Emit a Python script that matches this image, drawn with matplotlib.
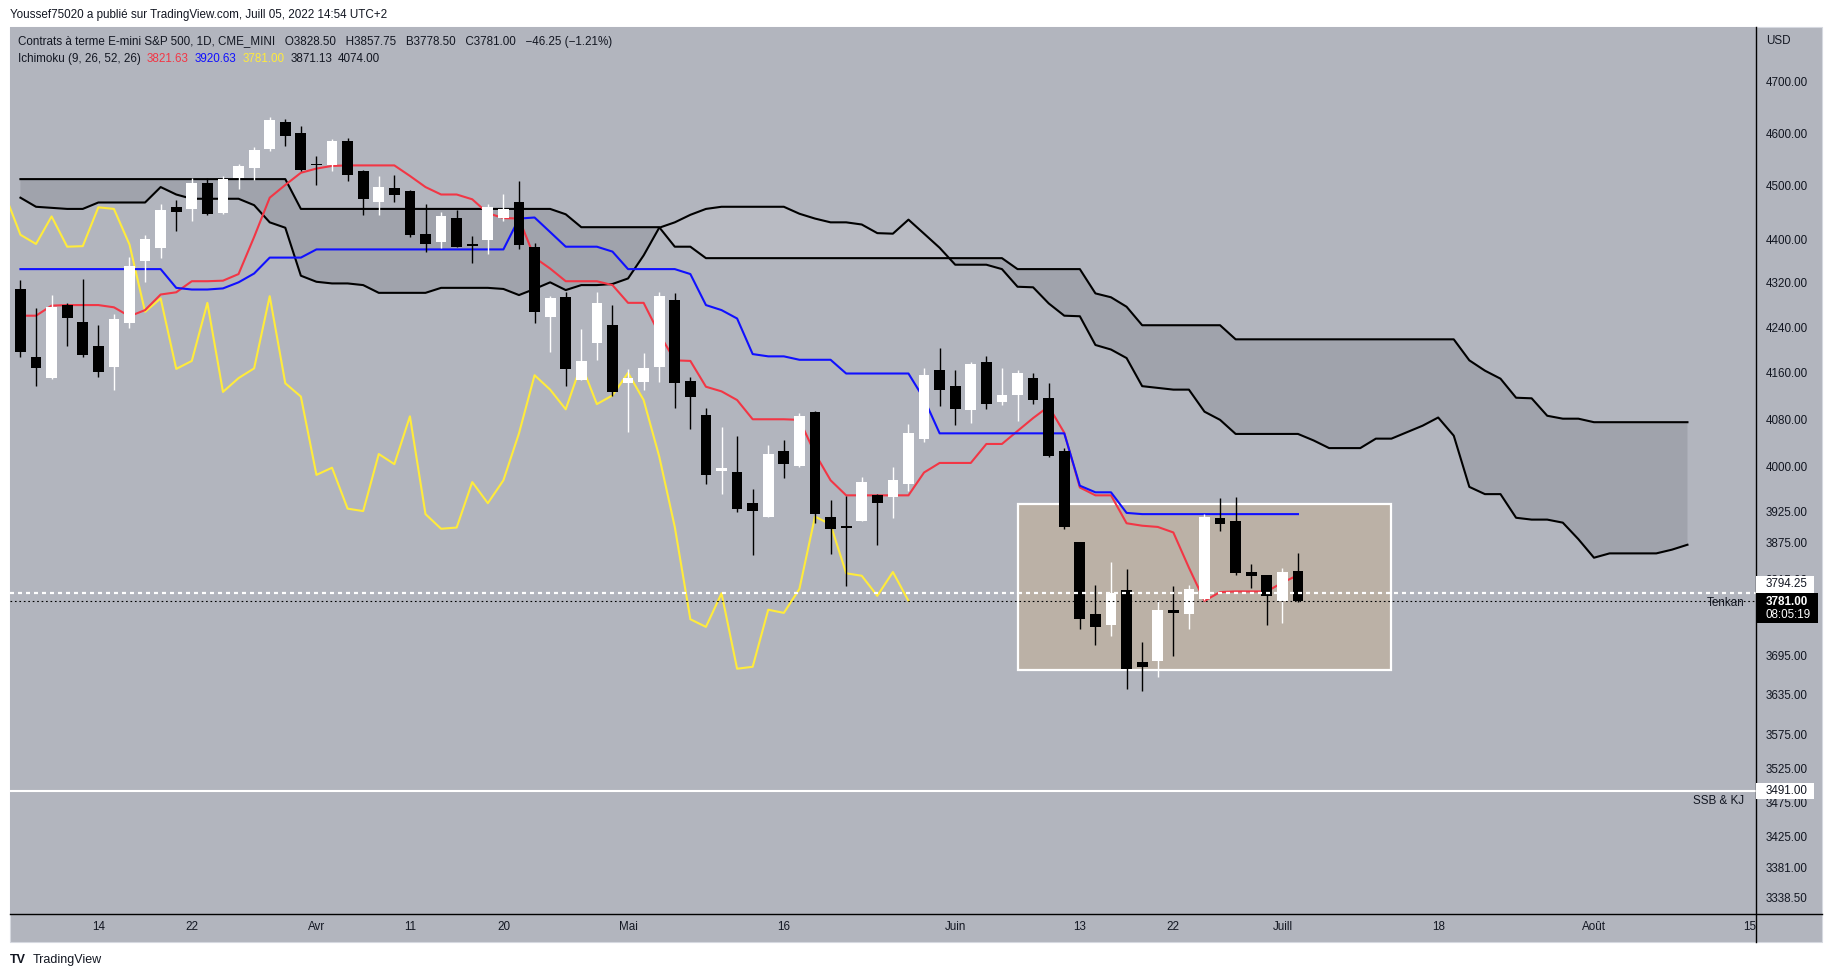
import numpy as np
import matplotlib
matplotlib.use("Agg")
import matplotlib.pyplot as plt
from matplotlib.patches import Rectangle
from matplotlib.ticker import NullLocator, NullFormatter

plt.rcParams['font.family'] = ['Liberation Sans', 'DejaVu Sans']

W, H = 1834, 977
DPI = 100

# index des barres : 0 = lundi 14 mars 2022 (seances CME, jours feries sautes)
bar_idx = np.arange(-5, 78)

opens = [4309, 4188, 4152, 4280, 4250, 4207, 4170, 4248, 4360, 4384,
         4459, 4456, 4505, 4448, 4514, 4533, 4569, 4621, 4600, 4541,
         4538, 4584, 4527, 4469, 4495, 4490, 4410, 4395, 4439, 4391,
         4398, 4439, 4468, 4386, 4258, 4294, 4148, 4213, 4244, 4143,
         4144, 4170, 4290, 4146, 4087, 3993, 3991, 3940, 3917, 4026,
         4001, 4092, 3917, 3902, 3910, 3952, 3950, 3971, 4046, 4165,
         4138, 4096, 4179, 4109, 4121, 4151, 4116, 4026, 3875, 3761,
         3743, 3798, 3686, 3687, 3766, 3760, 3784, 3915, 3910, 3827,
         3822, 3781, 3828.5]
highs = [4325, 4274, 4298, 4284, 4327, 4244, 4264, 4367, 4407, 4465,
         4473, 4514, 4514, 4518, 4540, 4574, 4631, 4627, 4613, 4555,
         4588, 4590, 4529, 4518, 4520, 4492, 4466, 4450, 4454, 4405,
         4466, 4484, 4508, 4393, 4296, 4303, 4237, 4303, 4280, 4166,
         4195, 4303, 4301, 4153, 4099, 4067, 4051, 3962, 4036, 4044,
         4090, 4095, 3944, 3951, 3983, 3955, 3999, 4072, 4168, 4203,
         4165, 4179, 4189, 4168, 4165, 4160, 4142, 4031, 3876, 3806,
         3843, 3832, 3716, 3783, 3805, 3806, 3922, 3948, 3950, 3840,
         3823, 3833, 3857.75]
lows = [4187, 4138, 4150, 4207, 4188, 4153, 4131, 4239, 4322, 4365,
        4415, 4434, 4444, 4447, 4494, 4510, 4566, 4575, 4527, 4501,
        4528, 4509, 4445, 4445, 4469, 4404, 4377, 4384, 4386, 4357,
        4373, 4434, 4381, 4248, 4197, 4137, 4147, 4183, 4120, 4058,
        4130, 4144, 4099, 4064, 3971, 3955, 3925, 3855, 3916, 3981,
        4000, 3906, 3856, 3805, 3909, 3871, 3915, 3960, 4041, 4103,
        4071, 4073, 4098, 4104, 4077, 4106, 4016, 3896, 3737, 3711,
        3725, 3644, 3641, 3663, 3695, 3737, 3783, 3894, 3822, 3802,
        3743, 3746, 3778.5]
closes = [4197, 4168, 4276, 4256, 4191, 4161, 4255, 4350, 4401, 4454,
          4451, 4505, 4446, 4512, 4537, 4567, 4625, 4595, 4529, 4539,
          4584, 4519, 4475, 4497, 4483, 4408, 4391, 4442, 4386, 4387,
          4459, 4456, 4390, 4268, 4292, 4167, 4181, 4284, 4127, 4151,
          4168, 4296, 4142, 4119, 3986, 3998, 3930, 3926, 4021, 4004,
          4085, 3921, 3897, 3899, 3974, 3939, 3977, 4056, 4156, 4131,
          4097, 4175, 4106, 4121, 4160, 4113, 4017, 3900, 3752, 3740,
          3793, 3675, 3678, 3767, 3762, 3800, 3917, 3904, 3825, 3821,
          3789, 3827, 3781]

tenkan = [4261, 4261, 4279, 4280, 4280, 4280, 4276, 4260, 4271, 4299,
          4303, 4323, 4323, 4324, 4336, 4404, 4477, 4501, 4524, 4532,
          4537, 4538, 4538, 4538, 4538, 4518, 4497, 4483, 4483, 4474,
          4448, 4439, 4438, 4366, 4346, 4323, 4323, 4323, 4316, 4284,
          4284, 4229, 4182, 4181, 4136, 4128, 4113, 4080, 4080, 4080,
          4079, 4022, 3977, 3952, 3952, 3952, 3952, 3952, 3990, 4006,
          4006, 4006, 4038, 4038, 4060, 4082, 4102, 4057, 3965, 3952,
          3952, 3906, 3902, 3900, 3891, 3834, 3781, 3795, 3796, 3796,
          3796, 3810, 3822]
kijun = [4345, 4345, 4345, 4345, 4345, 4345, 4345, 4345, 4345, 4345,
         4311, 4308, 4308, 4310, 4321, 4337, 4366, 4366, 4366, 4381,
         4381, 4381, 4381, 4381, 4381, 4381, 4381, 4381, 4381, 4381,
         4381, 4381, 4438, 4440, 4413, 4386, 4386, 4386, 4377, 4345,
         4345, 4345, 4345, 4336, 4280, 4271, 4256, 4193, 4189, 4189,
         4183, 4183, 4183, 4159, 4159, 4159, 4159, 4159, 4115, 4056,
         4056, 4056, 4056, 4056, 4056, 4056, 4056, 4056, 3968, 3957,
         3957, 3923, 3921, 3921, 3921, 3921, 3921, 3921, 3921, 3921,
         3921, 3921, 3921]

# nuage projete 26 periodes en avant
cloud_idx = np.arange(-5, 103)
span_a = [4477, 4460, 4458, 4456, 4456, 4468, 4468, 4468, 4468, 4497,
          4483, 4475, 4475, 4475, 4475, 4463, 4431, 4421, 4333, 4322,
          4319, 4319, 4316, 4302, 4302, 4302, 4302, 4311, 4311, 4311,
          4311, 4309, 4298, 4309, 4321, 4307, 4316, 4316, 4318, 4328,
          4370, 4421, 4431, 4445, 4456, 4460, 4460, 4460, 4460, 4460,
          4447, 4438, 4431, 4431, 4427, 4411, 4410, 4436, 4410, 4384,
          4353, 4353, 4353, 4345, 4313, 4312, 4283, 4261, 4260, 4209,
          4201, 4186, 4137, 4134, 4131, 4131, 4093, 4079, 4055, 4055,
          4055, 4055, 4055, 4044, 4031, 4031, 4031, 4047, 4047, 4058,
          4069, 4083, 4052, 3966, 3954, 3954, 3915, 3912, 3912, 3907,
          3880, 3850, 3857, 3857, 3857, 3857, 3863, 3871]
span_b = [4512, 4512, 4512, 4512, 4512, 4512, 4512, 4512, 4512, 4512,
          4512, 4512, 4512, 4512, 4512, 4512, 4512, 4512, 4456, 4456,
          4456, 4456, 4456, 4456, 4456, 4456, 4456, 4456, 4456, 4456,
          4456, 4456, 4456, 4456, 4456, 4446, 4422, 4422, 4422, 4422,
          4422, 4422, 4386, 4386, 4365, 4365, 4365, 4365, 4365, 4365,
          4365, 4365, 4365, 4365, 4365, 4365, 4365, 4365, 4365, 4365,
          4365, 4365, 4365, 4365, 4345, 4345, 4345, 4345, 4345, 4301,
          4294, 4277, 4244, 4244, 4244, 4244, 4244, 4244, 4219, 4219,
          4219, 4219, 4219, 4219, 4219, 4219, 4219, 4219, 4219, 4219,
          4219, 4219, 4219, 4182, 4164, 4150, 4117, 4116, 4086, 4081,
          4081, 4075, 4075, 4075, 4075, 4075, 4075, 4075]
chikou_shift = 25

date_ticks = [0, 6, 14, 20, 26, 34, 44, 55, 63, 69, 76, 86, 96, 106]
date_labels = ['14', '22', 'Avr', '11', '20', 'Mai', '16', 'Juin', '13', '22',
               'Juill', '18', 'Août', '15']
price_ticks = [4700, 4600, 4500, 4400, 4320, 4240, 4160, 4080, 4000, 3925,
               3875, 3815, 3755, 3695, 3635, 3575, 3525, 3475, 3425, 3381, 3338.5]

last_close = 3781.00
tenkan_level = 3794.25
ssb_kj_level = 3491.00
zone_bars = (59, 83)
zone_prices = (3672.5, 3938)

BG = '#b2b5be'
CLOUD_DARK = '#a0a3ac'
CLOUD_LIGHT = '#b9bbc3'
RED = '#f23645'
BLUE = '#1010ff'
YELLOW = '#ffeb3b'
TXT = '#131722'
FS = 8.4


def fx(x):
    return x / W


def fy(y):
    return 1 - y / H


fig = plt.figure(figsize=(W / DPI, H / DPI), dpi=DPI, facecolor='white')

# fond gris du graphique + axes de prix/temps
fig.add_artist(Rectangle((fx(10), fy(942)), fx(1822) - fx(10), fy(27) - fy(942),
                         transform=fig.transFigure, fc=BG, ec='#d6d9e0', lw=0.8, zorder=-10))

ax = fig.add_axes([fx(10), fy(914.3), fx(1756) - fx(10), fy(27) - fy(914.3)])
ax.set_facecolor(BG)
ax.set_yscale('log')
ax.set_xlim(-5.67, 106.4)
ax.set_ylim(3315.6, 4809)
for s in ax.spines.values():
    s.set_visible(False)

# nuage
sa = np.array(span_a, float)
sb = np.array(span_b, float)
ax.fill_between(cloud_idx, sa, sb, where=sb >= sa, interpolate=True, color=CLOUD_DARK, lw=0, zorder=1)
ax.fill_between(cloud_idx, sa, sb, where=sa > sb, interpolate=True, color=CLOUD_LIGHT, lw=0, zorder=1)
ax.plot(cloud_idx, sa, color='black', lw=1.5, zorder=3)
ax.plot(cloud_idx, sb, color='black', lw=1.5, zorder=3)

# zone rectangle
ax.add_patch(Rectangle((zone_bars[0], zone_prices[0]), zone_bars[1] - zone_bars[0],
                       zone_prices[1] - zone_prices[0], fc='#bbb1a6', ec='white', lw=1.6, zorder=2))

# lignes ichimoku
ax.plot(bar_idx - chikou_shift, closes, color=YELLOW, lw=1.5, zorder=4)
ax.plot(bar_idx, tenkan, color=RED, lw=1.5, zorder=4)
ax.plot(bar_idx, kijun, color=BLUE, lw=1.5, zorder=4)

# bougies
o = np.array(opens, float)
c = np.array(closes, float)
hi = np.array(highs, float)
lo = np.array(lows, float)
col = np.where(c >= o, 'white', 'black')
ax.vlines(bar_idx, lo, hi, colors=col, lw=1.0, zorder=6)
ax.bar(bar_idx, np.maximum(np.abs(c - o), 1.5), 0.69, bottom=np.minimum(o, c),
       color=col, lw=0, zorder=7)

# lignes horizontales
ax.axhline(tenkan_level, color='white', lw=1.6, ls=(0, (1.8, 1.8)), zorder=8)
ax.axhline(last_close, color='black', lw=0.8, ls=(0, (1.5, 2.5)), zorder=8)
ax.axhline(ssb_kj_level, color='white', lw=1.5, zorder=8)
ax.annotate('Tenkan', xy=(1, last_close), xycoords=('axes fraction', 'data'),
            xytext=(-8.3, -1.2), textcoords='offset points', ha='right', va='center',
            fontsize=FS, color=TXT, zorder=9)
ax.annotate('SSB & KJ', xy=(1, ssb_kj_level), xycoords=('axes fraction', 'data'),
            xytext=(-8.3, -3), textcoords='offset points', ha='right', va='top',
            fontsize=FS, color=TXT, zorder=9)

# graduations
ax.yaxis.tick_right()
ax.yaxis.set_minor_locator(NullLocator())
ax.yaxis.set_minor_formatter(NullFormatter())
ax.set_yticks(price_ticks)
ax.set_yticklabels([f'{p:.2f}' for p in price_ticks])
ax.set_xticks(date_ticks)
ax.set_xticklabels(date_labels)
ax.tick_params(axis='y', length=0, pad=7.2, labelsize=FS, labelcolor=TXT)
ax.tick_params(axis='x', length=0, pad=5, labelsize=FS, labelcolor=TXT)

# separateurs des echelles
fig.add_artist(plt.Line2D([fx(1756), fx(1756)], [fy(27), fy(942)], color='black', lw=1, transform=fig.transFigure))
fig.add_artist(plt.Line2D([fx(10), fx(1822)], [fy(914.3), fy(914.3)], color='black', lw=1, transform=fig.transFigure))


def price_y(p):
    return H - ax.transData.transform((0, p))[1]


# etiquettes de prix (la boite Tenkan est decalee vers le haut pour laisser la place au dernier cours)
def price_box(p, text, fc, tc, h=17, shift=0.0):
    yc = price_y(p) + shift
    fig.add_artist(Rectangle((fx(1756), fy(yc + h / 2)), fx(1814) - fx(1756), h / H,
                             transform=fig.transFigure, fc=fc, ec='none', zorder=20))
    fig.text(fx(1766), fy(yc), text, ha='left', va='center', fontsize=FS, color=tc, zorder=21)


price_box(tenkan_level, f'{tenkan_level:.2f}', 'white', TXT, shift=-8.5)
price_box(ssb_kj_level, f'{ssb_kj_level:.2f}', 'white', TXT, h=16)
yc = price_y(last_close)
fig.add_artist(Rectangle((fx(1757), fy(yc + 22)), fx(1818) - fx(1757), 30 / H,
                         transform=fig.transFigure, fc='black', ec='none', zorder=20))
fig.text(fx(1766), fy(yc + 0.7), f'{last_close:.2f}', ha='left', va='center', fontsize=FS,
         color='white', fontweight='bold', zorder=21)
fig.text(fx(1766), fy(yc + 14.3), '08:05:19', ha='left', va='center', fontsize=FS,
         color='white', zorder=21)
fig.text(fx(1766), fy(40.5), 'USD', ha='left', va='center', fontsize=FS, color=TXT)

# textes d'en-tete
fig.text(fx(10), fy(15), 'Youssef75020 a publié sur TradingView.com, Juill 05, 2022 14:54 UTC+2',
         ha='left', va='center', fontsize=8.4, color=TXT)
fig.text(fx(18), fy(42), 'Contrats à terme E-mini S&P 500, 1D, CME_MINI   O3828.50   H3857.75   '
         'B3778.50   C3781.00   \u221246.25 (\u22121.21%)', ha='left', va='center', fontsize=FS, color=TXT)

renderer = fig.canvas.get_renderer()
pieces = [('Ichimoku (9, 26, 52, 26)', TXT), ('3821.63', RED), ('3920.63', BLUE),
          ('3781.00', YELLOW), ('3871.13', TXT), ('4074.00', TXT)]
xpos = 18
for txt, colr in pieces:
    t = fig.text(fx(xpos), fy(59), txt, ha='left', va='center', fontsize=FS, color=colr)
    xpos = t.get_window_extent(renderer).x1 + 6

fig.text(fx(10), fy(960), 'TV', ha='left', va='center', fontsize=9, fontweight='bold', color=TXT)
fig.text(fx(33), fy(960), 'TradingView', ha='left', va='center', fontsize=9, color=TXT)

fig.savefig('out.png', dpi=DPI, facecolor='white')
